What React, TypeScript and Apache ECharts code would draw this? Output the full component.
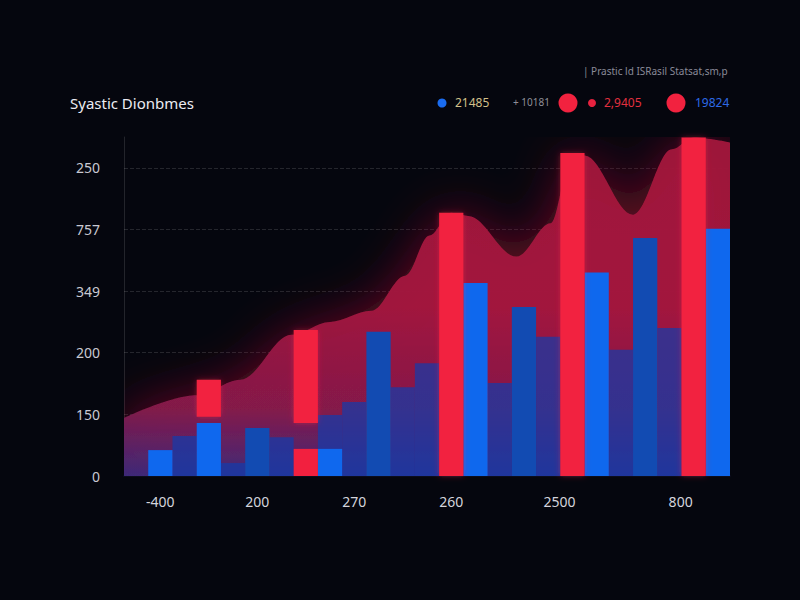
import React, { useEffect, useRef } from "react";
import * as echarts from "echarts";

const titleText = "Syastic Dionbmes";
const subtitleText = "| Prastic ld ISRasil Statsat,sm,p";
const legendTexts = ["21485", "+ 10181", "2,9405", "19824"];

const yTickLabels = ["0", "150", "200", "349", "757", "250"];

const categories = [
  "", "-400", "", "", "", "200", "", "", "", "270", "", "", "",
  "260", "", "", "", "", "2500", "", "", "", "", "800", "",
];

// bar values per slot (null = no bar)
const brightBlue = [null, 0.42, null, 0.86, null, null, null, null, 0.44, null, null, null, null, null, 3.13, null, null, null, null, 3.3, null, null, null, null, 4.01];
const midBlue = [null, null, null, null, null, 0.78, null, null, null, null, 2.34, null, null, null, null, null, 2.74, null, null, null, null, 3.86, null, null, null];
const dimBlue = [null, null, 0.65, null, 0.21, null, 0.63, null, 0.99, 1.2, null, 1.44, 1.83, null, null, 1.51, null, 2.26, null, null, 2.05, null, 2.4, null, null];

// red segments: lower block (from 0) and upper block [start, end]
const redLower = [null, null, null, null, null, null, null, 0.44, null, null, null, null, null, null, null, null, null, null, null, null, null, null, null, null, null];
const redStart = [null, null, null, 0.96, null, null, null, 0.86, null, null, null, null, null, 0, null, null, null, null, 0, null, null, null, null, 0, null];
const redEnd = [null, null, null, 1.56, null, null, null, 2.37, null, null, null, null, null, 4.27, null, null, null, null, 5.24, null, null, null, null, 5.49, null];

// area outline [slot position, value]
const areaPoints: [number, number][] = [
  [0, 0.94], [3, 1.31], [4.8, 1.56], [6.9, 2.29], [8.5, 2.5], [10.2, 2.68],
  [11.6, 3.25], [12.6, 3.9], [13.5, 4.27], [14.2, 4.22], [16.2, 3.56],
  [17.6, 4.1], [18.5, 5.24], [19.0, 5.2], [21.0, 4.24], [22.6, 5.3],
  [23.5, 5.49], [25, 5.41],
];

const FONT = "Noto Sans, Roboto, sans-serif";

export default function App() {
  const ref = useRef<HTMLDivElement>(null);

  useEffect(() => {
    document.body.style.margin = "0";
    document.body.style.background = "#05060e";
    const chart = echarts.init(ref.current!, null, { renderer: "svg" });

    const toData = (arr: (number | null)[]) => arr.map((v) => (v == null ? "-" : v));
    const redGap = redStart.map((s, i) => (s == null ? "-" : s - (redLower[i] ?? 0)));
    const redTop = redEnd.map((e, i) => (e == null ? "-" : e - (redStart[i] ?? 0)));

    const shifted = new Set(["2500", "800"]);

    chart.setOption({
      animation: false,
      backgroundColor: "#05060e",
      grid: { left: 124, right: 70, top: 137, bottom: 124 },
      xAxis: [
        {
          type: "category",
          data: categories,
          axisLine: { show: true, lineStyle: { color: "#0b0d1c", width: 2 } },
          axisTick: { show: false },
          axisLabel: {
            interval: 0,
            margin: 18,
            color: "#d4d4dc",
            fontSize: 14,
            fontFamily: FONT,
            formatter: (v: string) => (v === "" ? "" : shifted.has(v) ? `{s|${v}}` : `{n|${v}}`),
            rich: {
              n: { color: "#d4d4dc", fontSize: 14, fontFamily: FONT },
              s: { color: "#d4d4dc", fontSize: 14, fontFamily: FONT, padding: [0, 26, 0, 0] },
            },
          },
          splitLine: { show: false },
        },
        { type: "value", min: 0, max: 25, show: false },
      ],
      yAxis: {
        type: "value",
        min: 0,
        max: 5.5,
        interval: 1,
        axisLine: { show: true, lineStyle: { color: "rgba(255,255,255,0.12)" } },
        axisTick: { show: false },
        axisLabel: {
          margin: 24,
          color: "#c9c9d2",
          fontSize: 14,
          fontFamily: FONT,
          showMaxLabel: false,
          formatter: (v: number) => (Number.isInteger(v) && yTickLabels[v] != null ? yTickLabels[v] : ""),
        },
        splitLine: {
          show: true,
          showMaxLine: false,
          lineStyle: { type: "dashed", color: "rgba(255,255,255,0.13)" },
        },
      },
      series: [
        {
          type: "line",
          xAxisIndex: 1,
          data: areaPoints,
          smooth: 0.35,
          smoothMonotone: "x",
          symbol: "none",
          lineStyle: { width: 0 },
          areaStyle: {
            color: new echarts.graphic.LinearGradient(0, 0, 0, 1, [
              { offset: 0, color: "#a3163c" },
              { offset: 0.5, color: "#a5173f" },
              { offset: 0.8, color: "#861a4b" },
              { offset: 1, color: "#3e2a7c" },
            ]),
            opacity: 0.95,
            shadowBlur: 50,
            shadowColor: "rgba(150,15,45,0.7)",
          },
          z: 1,
        },
        {
          type: "bar",
          data: toData(dimBlue),
          barGap: "-100%",
          barCategoryGap: "0%",
          itemStyle: { color: "rgba(18,60,172,0.7)" },
          z: 2,
        },
        {
          type: "bar",
          data: toData(midBlue),
          barGap: "-100%",
          barCategoryGap: "0%",
          itemStyle: { color: "#124bb2" },
          z: 3,
        },
        {
          type: "bar",
          data: toData(brightBlue),
          barGap: "-100%",
          barCategoryGap: "0%",
          itemStyle: { color: "#0f68ee" },
          z: 4,
        },
        {
          type: "bar",
          stack: "red",
          data: toData(redLower),
          barGap: "-100%",
          barCategoryGap: "0%",
          itemStyle: { color: "#f2203f" },
          z: 5,
        },
        {
          type: "bar",
          stack: "red",
          data: redGap,
          barGap: "-100%",
          barCategoryGap: "0%",
          itemStyle: { color: "rgba(0,0,0,0)" },
          z: 5,
        },
        {
          type: "bar",
          stack: "red",
          data: redTop,
          barGap: "-100%",
          barCategoryGap: "0%",
          itemStyle: { color: "#f2203f", shadowBlur: 6, shadowColor: "rgba(255,40,70,0.35)" },
          z: 5,
        },
      ],
      graphic: [
        {
          type: "text",
          left: 70,
          top: 95,
          style: { text: titleText, fill: "#ececf2", fontSize: 15, fontFamily: FONT },
        },
        {
          type: "text",
          left: 583,
          top: 66,
          style: { text: subtitleText, fill: "#8a8a98", fontSize: 10, fontFamily: FONT },
        },
        { type: "circle", shape: { cx: 442, cy: 103, r: 4.5 }, style: { fill: "#1a6cf0" } },
        {
          type: "text",
          left: 455,
          top: 96,
          style: { text: legendTexts[0], fill: "#d2c08a", fontSize: 12, fontFamily: FONT },
        },
        {
          type: "text",
          left: 513,
          top: 97,
          style: { text: legendTexts[1], fill: "#8f8f98", fontSize: 10, fontFamily: FONT },
        },
        { type: "circle", shape: { cx: 568, cy: 103, r: 9.5 }, style: { fill: "#f2223f" } },
        { type: "circle", shape: { cx: 592, cy: 103, r: 4 }, style: { fill: "#e8223f" } },
        {
          type: "text",
          left: 604,
          top: 96,
          style: { text: legendTexts[2], fill: "#e2303f", fontSize: 12, fontFamily: FONT },
        },
        { type: "circle", shape: { cx: 676, cy: 103, r: 9.5 }, style: { fill: "#f2223f" } },
        {
          type: "text",
          left: 695,
          top: 96,
          style: { text: legendTexts[3], fill: "#2d6ae6", fontSize: 12, fontFamily: FONT },
        },
      ],
    });

    return () => chart.dispose();
  }, []);

  return (
    <div
      ref={ref}
      style={{ width: 800, height: 600, position: "absolute", left: 0, top: 0 }}
    />
  );
}
